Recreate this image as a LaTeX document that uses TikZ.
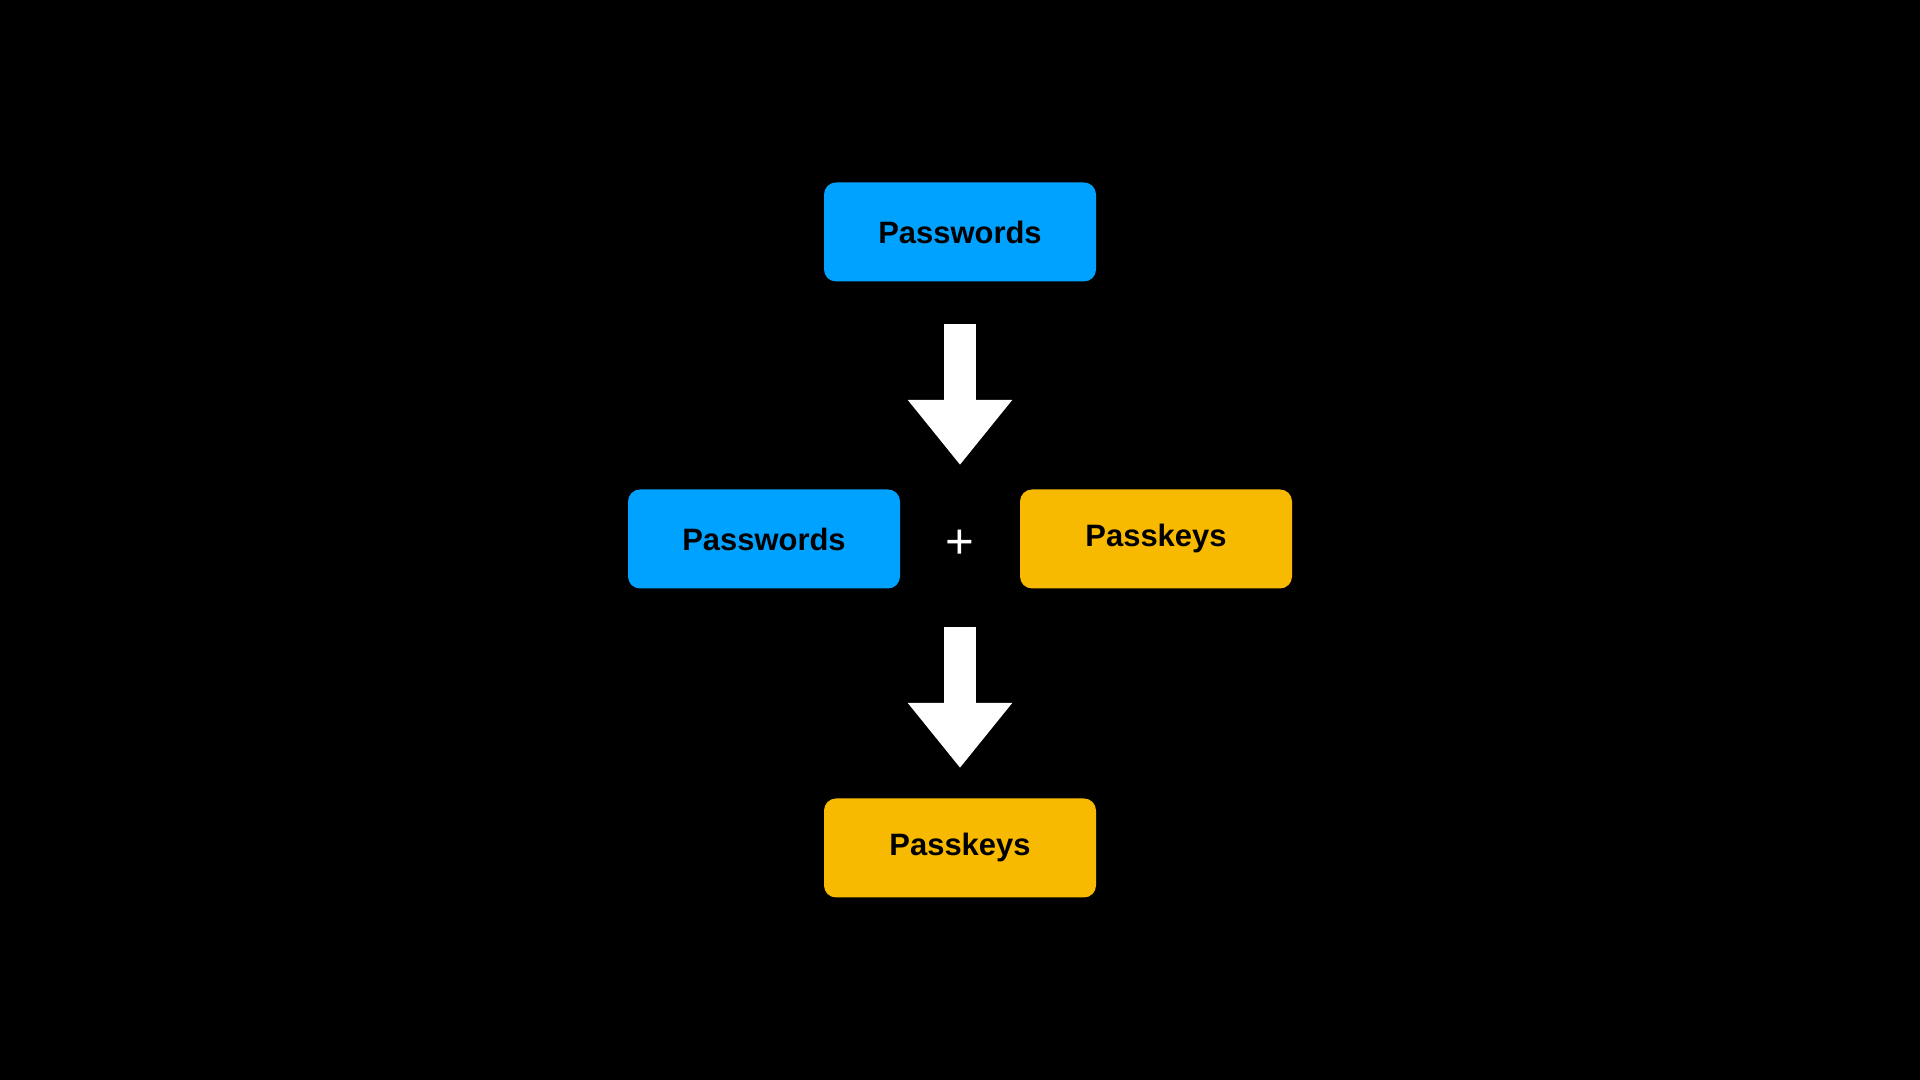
\documentclass[tikz,border=0pt]{standalone}
\usepackage{fontspec}
\setmainfont{Liberation Sans}
\usetikzlibrary{arrows.meta}
\definecolor{pwblue}{HTML}{00A2FF}
\definecolor{pkgold}{HTML}{F8BA00}
\begin{document}
\begin{tikzpicture}
    [
    box/.style={rectangle,rounded corners=1.2mm,minimum width=2.72cm,minimum height=0.99cm,inner sep=0pt,font=\fontsize{8.8}{10}\selectfont\bfseries,text=black},
    pw/.style={box,fill=pwblue},
    pk/.style={box,fill=pkgold},
    flow/.style={white,line width=0.32cm,-{Triangle[width=1cm,length=0.65cm]}}
    ]
    \fill[black] (0,0) rectangle (19.2,10.8);
    \node (top) at (9.6,8.48) [pw] {Passwords};
    \node (left) at (7.64,5.41) [pw] {Passwords};
    \node (right) at (11.56,5.41) [pk] {Passkeys};
    \node (plus) at (9.6,5.36) [text=white,font=\fontsize{14}{14}\selectfont] {+};
    \node (bottom) at (9.6,2.32) [pk] {Passkeys};
    \coordinate (s1) at (9.6,7.555);
    \coordinate (e1) at (9.6,6.15);
    \coordinate (s2) at (9.6,4.53);
    \coordinate (e2) at (9.6,3.12);
    \draw [flow] (s1) to (e1);
    \draw [flow] (s2) to (e2);
  \end{tikzpicture}
\end{document}
